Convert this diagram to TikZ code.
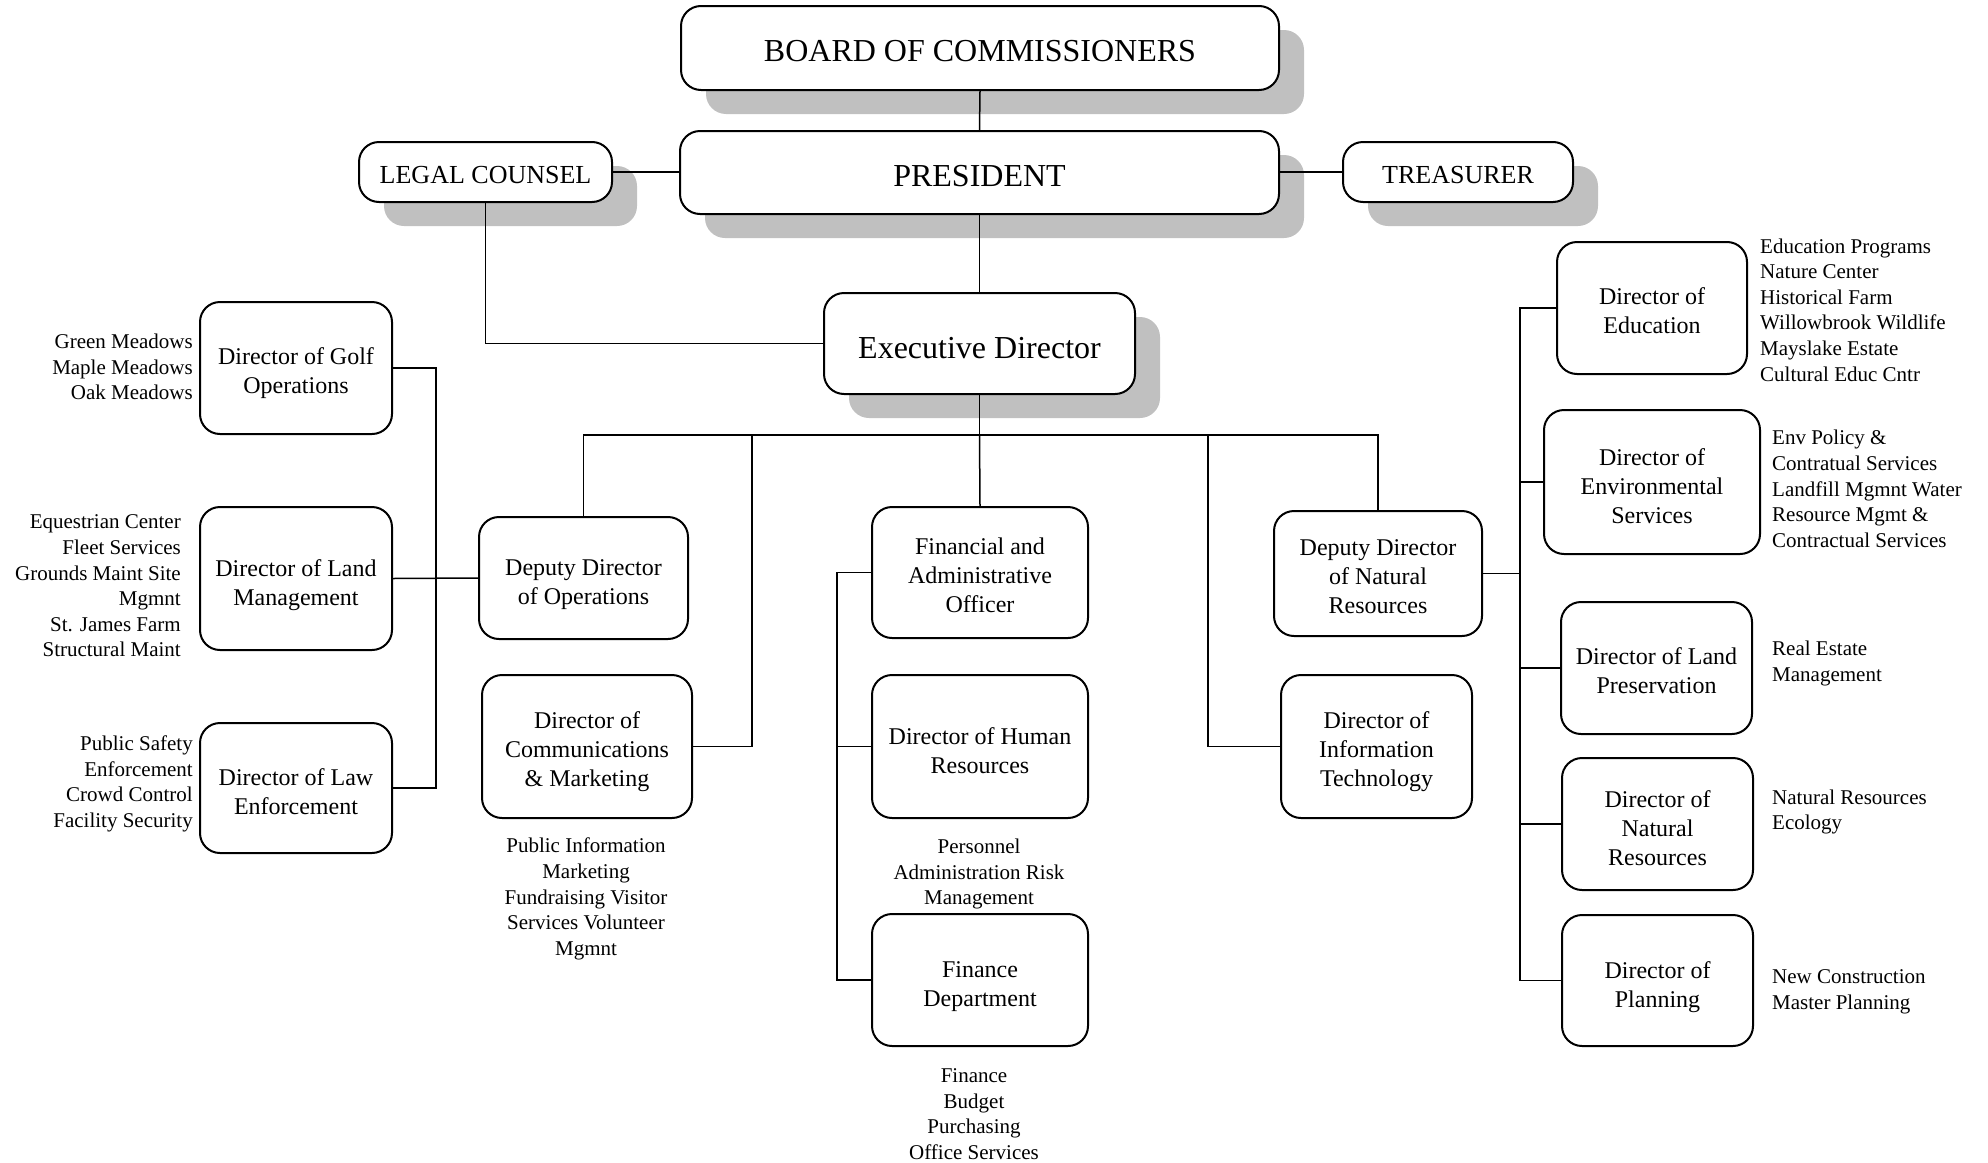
\documentclass[tikz,border=0pt]{standalone}
\usepackage{fontspec}
\setmainfont{Liberation Serif}
\usetikzlibrary{shadows}
\definecolor{shadowgray}{RGB}{192,192,192}
\newcommand\tsp[1]{\rule{0pt}{#1}}
\newcommand\bs[1][30pt]{\rule{0pt}{#1}}
\begin{document}
\begin{tikzpicture}[x=1pt,y=-1pt,
  box/.style={draw, line width=2pt, rounded corners=20pt, fill=white, align=center,
    inner sep=0pt, font=\fontsize{24}{29}\selectfont},
  topbox/.style={box, drop shadow={shadow xshift=25pt, shadow yshift=-24pt, fill=shadowgray, opacity=1}},
  note/.style={inner sep=0pt, font=\fontsize{21}{25.6}\selectfont},
  conn/.style={line width=1.5pt}
]
\useasboundingbox (0,0) rectangle (1988,1162);
% top row
\node[topbox, minimum width=598pt, minimum height=84pt, font=\fontsize{32}{36}\selectfont] (board) at (980,48) {\tsp{27.8pt}BOARD OF COMMISSIONERS};
\node[topbox, minimum width=599pt, minimum height=83pt, font=\fontsize{32}{36}\selectfont] (pres) at (979.5,172.5) {\tsp{27.8pt}PRESIDENT};
\node[topbox, minimum width=253pt, minimum height=60pt, font=\fontsize{26}{30}\selectfont] (lc) at (485.5,172) {\tsp{22.6pt}LEGAL COUNSEL};
\node[topbox, minimum width=230pt, minimum height=60pt, font=\fontsize{26}{30}\selectfont] (treas) at (1458,172) {\tsp{22.6pt}TREASURER};
\node[topbox, minimum width=311pt, minimum height=101pt, font=\fontsize{32}{36}\selectfont] (ed) at (979.5,343.5) {\tsp{30.4pt}Executive Director};
% middle
\node[box, minimum width=209pt, minimum height=122pt] (dops) at (583.5,578) {\bs Deputy Director\\of Operations};
\node[box, minimum width=210pt, minimum height=143pt] (comms) at (587,746.5) {\bs[27.5pt]Director of\\Communications\\\& Marketing};
\node[box, minimum width=216pt, minimum height=131pt] (fa) at (980,572.5) {\bs[22.5pt]Financial and\\Administrative\\Officer};
\node[box, minimum width=216pt, minimum height=143pt] (hr) at (980,746.5) {\bs[25pt]Director of Human\\Resources};
\node[box, minimum width=216pt, minimum height=132pt] (fin) at (980,980) {\bs Finance\\Department};
\node[box, minimum width=208pt, minimum height=125pt] (dnr) at (1378,573.5) {\bs[22.5pt]Deputy Director\\of Natural\\Resources};
\node[box, minimum width=191pt, minimum height=143pt] (it) at (1376.5,746.5) {\bs[27.5pt]Director of\\Information\\Technology};
% left
\node[box, minimum width=192pt, minimum height=132pt] (golf) at (296,368) {\bs[28pt]Director of Golf\\Operations};
\node[box, minimum width=192pt, minimum height=143pt] (land) at (296,578.5) {\bs Director of Land\\Management};
\node[box, minimum width=192pt, minimum height=130pt] (law) at (296,788) {\bs[25pt]Director of Law\\Enforcement};
% right
\node[box, minimum width=190pt, minimum height=132pt] (edu) at (1652,308) {\bs[22.5pt]Director of\\Education};
\node[box, minimum width=216pt, minimum height=144pt] (env) at (1652,482) {\bs[25pt]Director of\\Environmental\\Services};
\node[box, minimum width=191pt, minimum height=132pt] (lp) at (1656.5,668) {\bs[22.5pt]Director of Land\\Preservation};
\node[box, minimum width=191pt, minimum height=132pt] (nr) at (1657.5,824) {\bs[25pt]Director of\\Natural\\Resources};
\node[box, minimum width=191pt, minimum height=131pt] (plan) at (1657.5,980.5) {\bs Director of\\Planning};
% notes
\node[note, align=right, anchor=east] (ngolf) at (193,367) {Green Meadows\\Maple Meadows\\Oak Meadows};
\node[note, align=right, anchor=east] (nland) at (181,586) {Equestrian Center\\Fleet Services\\Grounds Maint Site\\Mgmnt\\St. James Farm\\Structural Maint};
\node[note, align=right, anchor=east] (nlaw) at (193,784) {Public Safety\\Enforcement\\Crowd Control\\Facility Security};
\node[note, align=center] (ncomms) at (586,899) {Public Information\\Marketing\\Fundraising Visitor\\Services Volunteer\\Mgmnt};
\node[note, align=center] (nhr) at (979,874) {Personnel\\Administration Risk\\Management};
\node[note, align=center] (nfin) at (974,1114) {Finance\\Budget\\Purchasing\\Office Services};
\node[note, align=left, anchor=west] (nedu) at (1760,310) {Education Programs\\Nature Center\\Historical Farm\\Willowbrook Wildlife\\Mayslake Estate\\Cultural Educ Cntr};
\node[note, align=left, anchor=west] (nenv) at (1772,489) {Env Policy \&\\Contratual Services\\Landfill Mgmnt Water\\Resource Mgmt \&\\Contractual Services};
\node[note, align=left, anchor=west] (nlp) at (1772,663.5) {Real Estate\\Management};
\node[note, align=left, anchor=west] (nnr) at (1772,812) {Natural Resources\\Ecology};
\node[note, align=left, anchor=west] (nplan) at (1772,992) {New Construction\\Master Planning};
% connectors
\coordinate (bus) at (979.5,435);
\coordinate (cbus) at (752,435);
\coordinate (itbus) at (1208,435);
\coordinate (fbx) at (837,0);
\coordinate (lbx) at (436,0);
\coordinate (rbx) at (1520,0);
\draw[conn] (board.south) -- (pres.north);
\draw[conn] (lc.east) -- (lc.east -| pres.west);
\draw[conn] (pres.east |- treas.west) -- (treas.west);
\draw[conn] (pres.south) -- (ed.north);
\draw[conn] (lc.south) |- (ed.west);
\draw[conn] (ed.south) -- (bus);
\draw[conn] (dops.north) |- (bus) -| (dnr.north);
\draw[conn] (bus) -- (fa.north);
\draw[conn] (comms.east) -| (cbus);
\draw[conn] (it.west) -| (itbus);
\draw[conn] (fa.west) -| (fbx |- fin.west) -- (fin.west);
\draw[conn] (hr.west) -- (hr.west -| fbx);
\draw[conn] (golf.east) -| (lbx |- law.east) -- (law.east);
\draw[conn] (land.east) -- (dops.west);
\draw[conn] (edu.west) -| (rbx |- plan.west) -- (plan.west);
\draw[conn] (dnr.east) -- (dnr.east -| rbx);
\draw[conn] (env.west) -- (env.west -| rbx);
\draw[conn] (lp.west) -- (lp.west -| rbx);
\draw[conn] (nr.west) -- (nr.west -| rbx);
\end{tikzpicture}
\end{document}
